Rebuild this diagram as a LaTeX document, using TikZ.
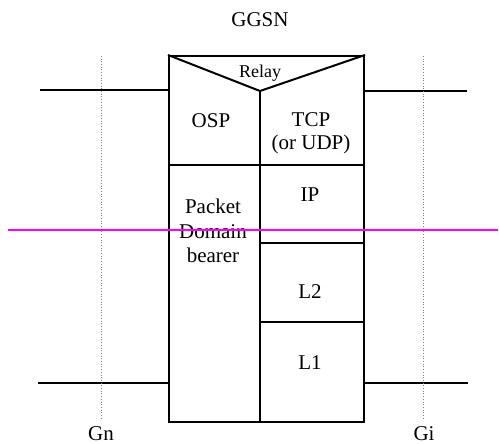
\documentclass[tikz,border=0pt]{standalone}
\usepackage{fontspec}
\setmainfont{Liberation Serif}
\definecolor{cutline}{RGB}{255,0,255}
\begin{document}
\begin{tikzpicture}[x=1pt,y=-1pt,
    layer/.style={font=\fontsize{21}{23}\selectfont, align=center, inner sep=0pt},
    iflabel/.style={font=\fontsize{21}{23}\selectfont, inner sep=0pt},
    linkline/.style={line width=1.5pt},
    refline/.style={gray, dotted, line width=0.7pt}]
    \useasboundingbox (0,0) rectangle (499,444);

    % Nodo GGSN
    \node[draw, line width=2pt, minimum width=195pt, minimum height=366pt,
          inner sep=0pt, anchor=north west] (ggsn) at (168,55) {};
    \node[layer] (title) at (260,20) {GGSN};

    % Relay
    \coordinate (apex) at (260,91);
    \draw[line width=2pt] (ggsn.north west) -- (apex) -- (ggsn.north east);
    \node[layer, font=\fontsize{18}{20}\selectfont] (relay) at (260,73) {Relay};

    % Separaciones de la pila
    \draw[line width=2.4pt] (apex) -- (apex |- ggsn.south);
    \draw[line width=2.6pt] (168,165) -- (363,165);
    \draw[line width=2pt] (260,243) -- (363,243);
    \draw[line width=2pt] (260,322) -- (363,322);

    % Capas
    \node[layer] (osp) at (211,121) {OSP};
    \node[layer] (tcp) at (311,133) {TCP\\(or UDP)};
    \node[layer, font=\fontsize{21}{24.5}\selectfont] (pdb) at (213,231) {Packet\\Domain\\bearer};
    \node[layer] (ip) at (310,195) {IP};
    \node[layer] (ltwo) at (310,292) {L2};
    \node[layer] (lone) at (310,363) {L1};

    % Interfaces
    \coordinate (gnup) at (40,90);
    \coordinate (gnlow) at (38,383);
    \coordinate (giup) at (467,91);
    \coordinate (gilow) at (468,383);
    \draw[linkline] (gnup) -- (gnup -| ggsn.west);
    \draw[linkline] (gnlow) -- (gnlow -| ggsn.west);
    \draw[linkline] (ggsn.east |- giup) -- (giup);
    \draw[linkline] (ggsn.east |- gilow) -- (gilow);

    \draw[refline] (101.5,56) -- (101.5,420);
    \draw[refline] (423.5,56) -- (423.5,420);
    \node[iflabel] (gn) at (101,434) {Gn};
    \node[iflabel] (gi) at (424,434) {Gi};

    % Linea magenta
    \draw[cutline, line width=2.3pt] (8,230) -- (498,230);
\end{tikzpicture}
\end{document}
